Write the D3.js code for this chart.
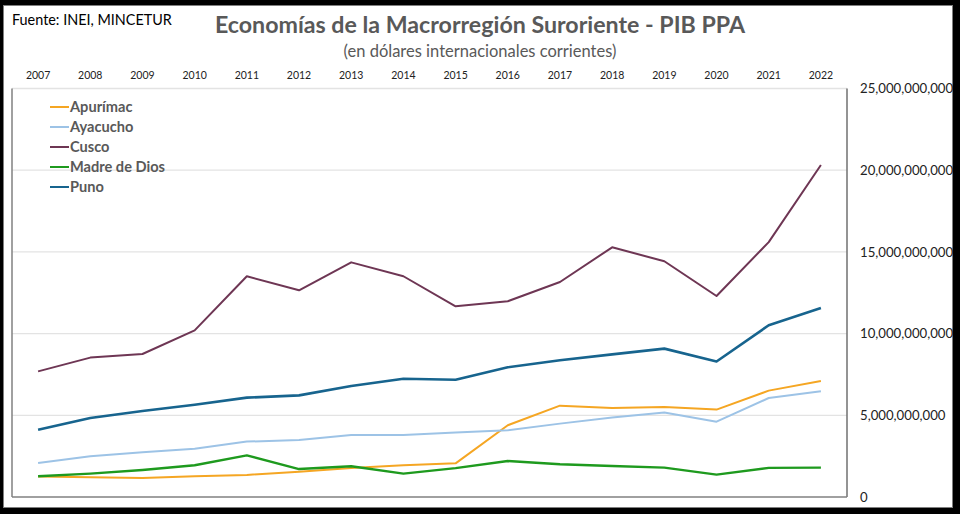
<!DOCTYPE html>
<html><head><meta charset="utf-8">
<script src="https://cdn.jsdelivr.net/npm/d3@7"></script>
<style>
html,body{margin:0;padding:0;background:#000;}
svg{display:block;}
</style></head>
<body>
<svg id="c" width="960" height="514"></svg>
<script>
const years = ["2007","2008","2009","2010","2011","2012","2013","2014","2015","2016","2017","2018","2019","2020","2021","2022"];
const apurimac = [1.25e9,1.21e9,1.16e9,1.27e9,1.35e9,1.55e9,1.77e9,1.94e9,2.06e9,4.39e9,5.59e9,5.45e9,5.51e9,5.35e9,6.51e9,7.10e9];
const ayacucho = [2.08e9,2.49e9,2.74e9,2.96e9,3.39e9,3.49e9,3.79e9,3.79e9,3.94e9,4.08e9,4.49e9,4.86e9,5.17e9,4.61e9,6.06e9,6.47e9];
const cusco = [7.69e9,8.53e9,8.75e9,10.2e9,13.51e9,12.65e9,14.36e9,13.51e9,11.67e9,11.98e9,13.16e9,15.28e9,14.43e9,12.3e9,15.6e9,20.32e9];
const madreDeDios = [1.27e9,1.43e9,1.65e9,1.94e9,2.55e9,1.71e9,1.88e9,1.43e9,1.77e9,2.2e9,2.0e9,1.9e9,1.8e9,1.37e9,1.78e9,1.8e9];
const puno = [4.12e9,4.84e9,5.26e9,5.65e9,6.08e9,6.22e9,6.79e9,7.24e9,7.18e9,7.94e9,8.37e9,8.73e9,9.08e9,8.29e9,10.51e9,11.57e9];
const seriesNames = ["Apurímac","Ayacucho","Cusco","Madre de Dios","Puno"];
const yTicks = [0,5e9,10e9,15e9,20e9,25e9];

const seriesData = [apurimac, ayacucho, cusco, madreDeDios, puno];
const colors = ["#f5a623","#9dc3e6","#6e3654","#1e9a1e","#17648e"];
const widths = [2, 2, 2, 2.4, 2.6];

const svg = d3.select("#c");
const font = "Lato, 'Open Sans', sans-serif";

// white card
svg.append("rect").attr("x",3.5).attr("y",5.5).attr("width",949).attr("height",502)
  .attr("fill","#fff").attr("stroke","#7f7f7f").attr("stroke-width",1);

const L = 12, R = 847, T = 88.5, B = 497;
const x = d3.scaleBand().domain(years).range([L, R]);
const xc = d => x(d) + x.bandwidth()/2;
const y = d3.scaleLinear().domain([0, 25e9]).range([B, T]);

// gridlines
svg.append("g").selectAll("line").data(yTicks.slice(1)).join("line")
  .attr("x1", L).attr("x2", R).attr("y1", d => y(d)).attr("y2", d => y(d))
  .attr("stroke", "#e3e3e3").attr("stroke-width", 1.3);

// frame: left, bottom, right
svg.append("line").attr("x1",L).attr("x2",L).attr("y1",T).attr("y2",B).attr("stroke","#808080").attr("stroke-width",1.5);
svg.append("line").attr("x1",R).attr("x2",R).attr("y1",T).attr("y2",B).attr("stroke","#707070").attr("stroke-width",1.5);
svg.append("line").attr("x1",L).attr("x2",R).attr("y1",B).attr("y2",B).attr("stroke","#808080").attr("stroke-width",1.5);

// top x axis (labels only)
const xAxis = svg.append("g").attr("transform", `translate(0,${T-10})`)
  .call(d3.axisTop(x).tickSize(0).tickPadding(0));
xAxis.select(".domain").remove();
xAxis.selectAll("text").attr("font-family", font).attr("font-size", 10.5).attr("fill", "#222");

// right y axis (labels only)
const yAxis = svg.append("g").attr("transform", `translate(${R},0)`)
  .call(d3.axisRight(y).tickValues(yTicks).tickSize(0).tickPadding(13).tickFormat(d3.format(",")));
yAxis.select(".domain").remove();
yAxis.selectAll("text").attr("font-family", font).attr("font-size", 13.2).attr("fill", "#222");

// lines
const line = d3.line().x((d,i) => xc(years[i])).y(d => y(d));
seriesData.forEach((s, k) => {
  svg.append("path").datum(s).attr("d", line).attr("fill","none")
    .attr("stroke", colors[k]).attr("stroke-width", widths[k]).attr("stroke-linejoin","round");
});

// legend
const lg = svg.append("g");
seriesNames.forEach((n, k) => {
  const yy = 107 + k*20;
  lg.append("line").attr("x1",50).attr("x2",69).attr("y1",yy).attr("y2",yy)
    .attr("stroke", colors[k]).attr("stroke-width", 2);
  lg.append("text").attr("x",70).attr("y",yy+5).text(n)
    .attr("font-family", font).attr("font-weight","bold").attr("font-size",14.6).attr("fill","#595959");
});

// titles
svg.append("text").attr("x",12).attr("y",24.5).text("Fuente: INEI, MINCETUR")
  .attr("font-family", font).attr("font-size",14.4).attr("fill","#000");
svg.append("text").attr("x",480).attr("y",33).attr("text-anchor","middle")
  .text("Economías de la Macrorregión Suroriente - PIB PPA")
  .attr("font-family", font).attr("font-weight","bold").attr("font-size",23.2).attr("fill","#595959");
svg.append("text").attr("x",480).attr("y",57).attr("text-anchor","middle")
  .text("(en dólares internacionales corrientes)")
  .attr("font-family", font).attr("font-size",16.5).attr("fill","#595959");
</script>
</body></html>
